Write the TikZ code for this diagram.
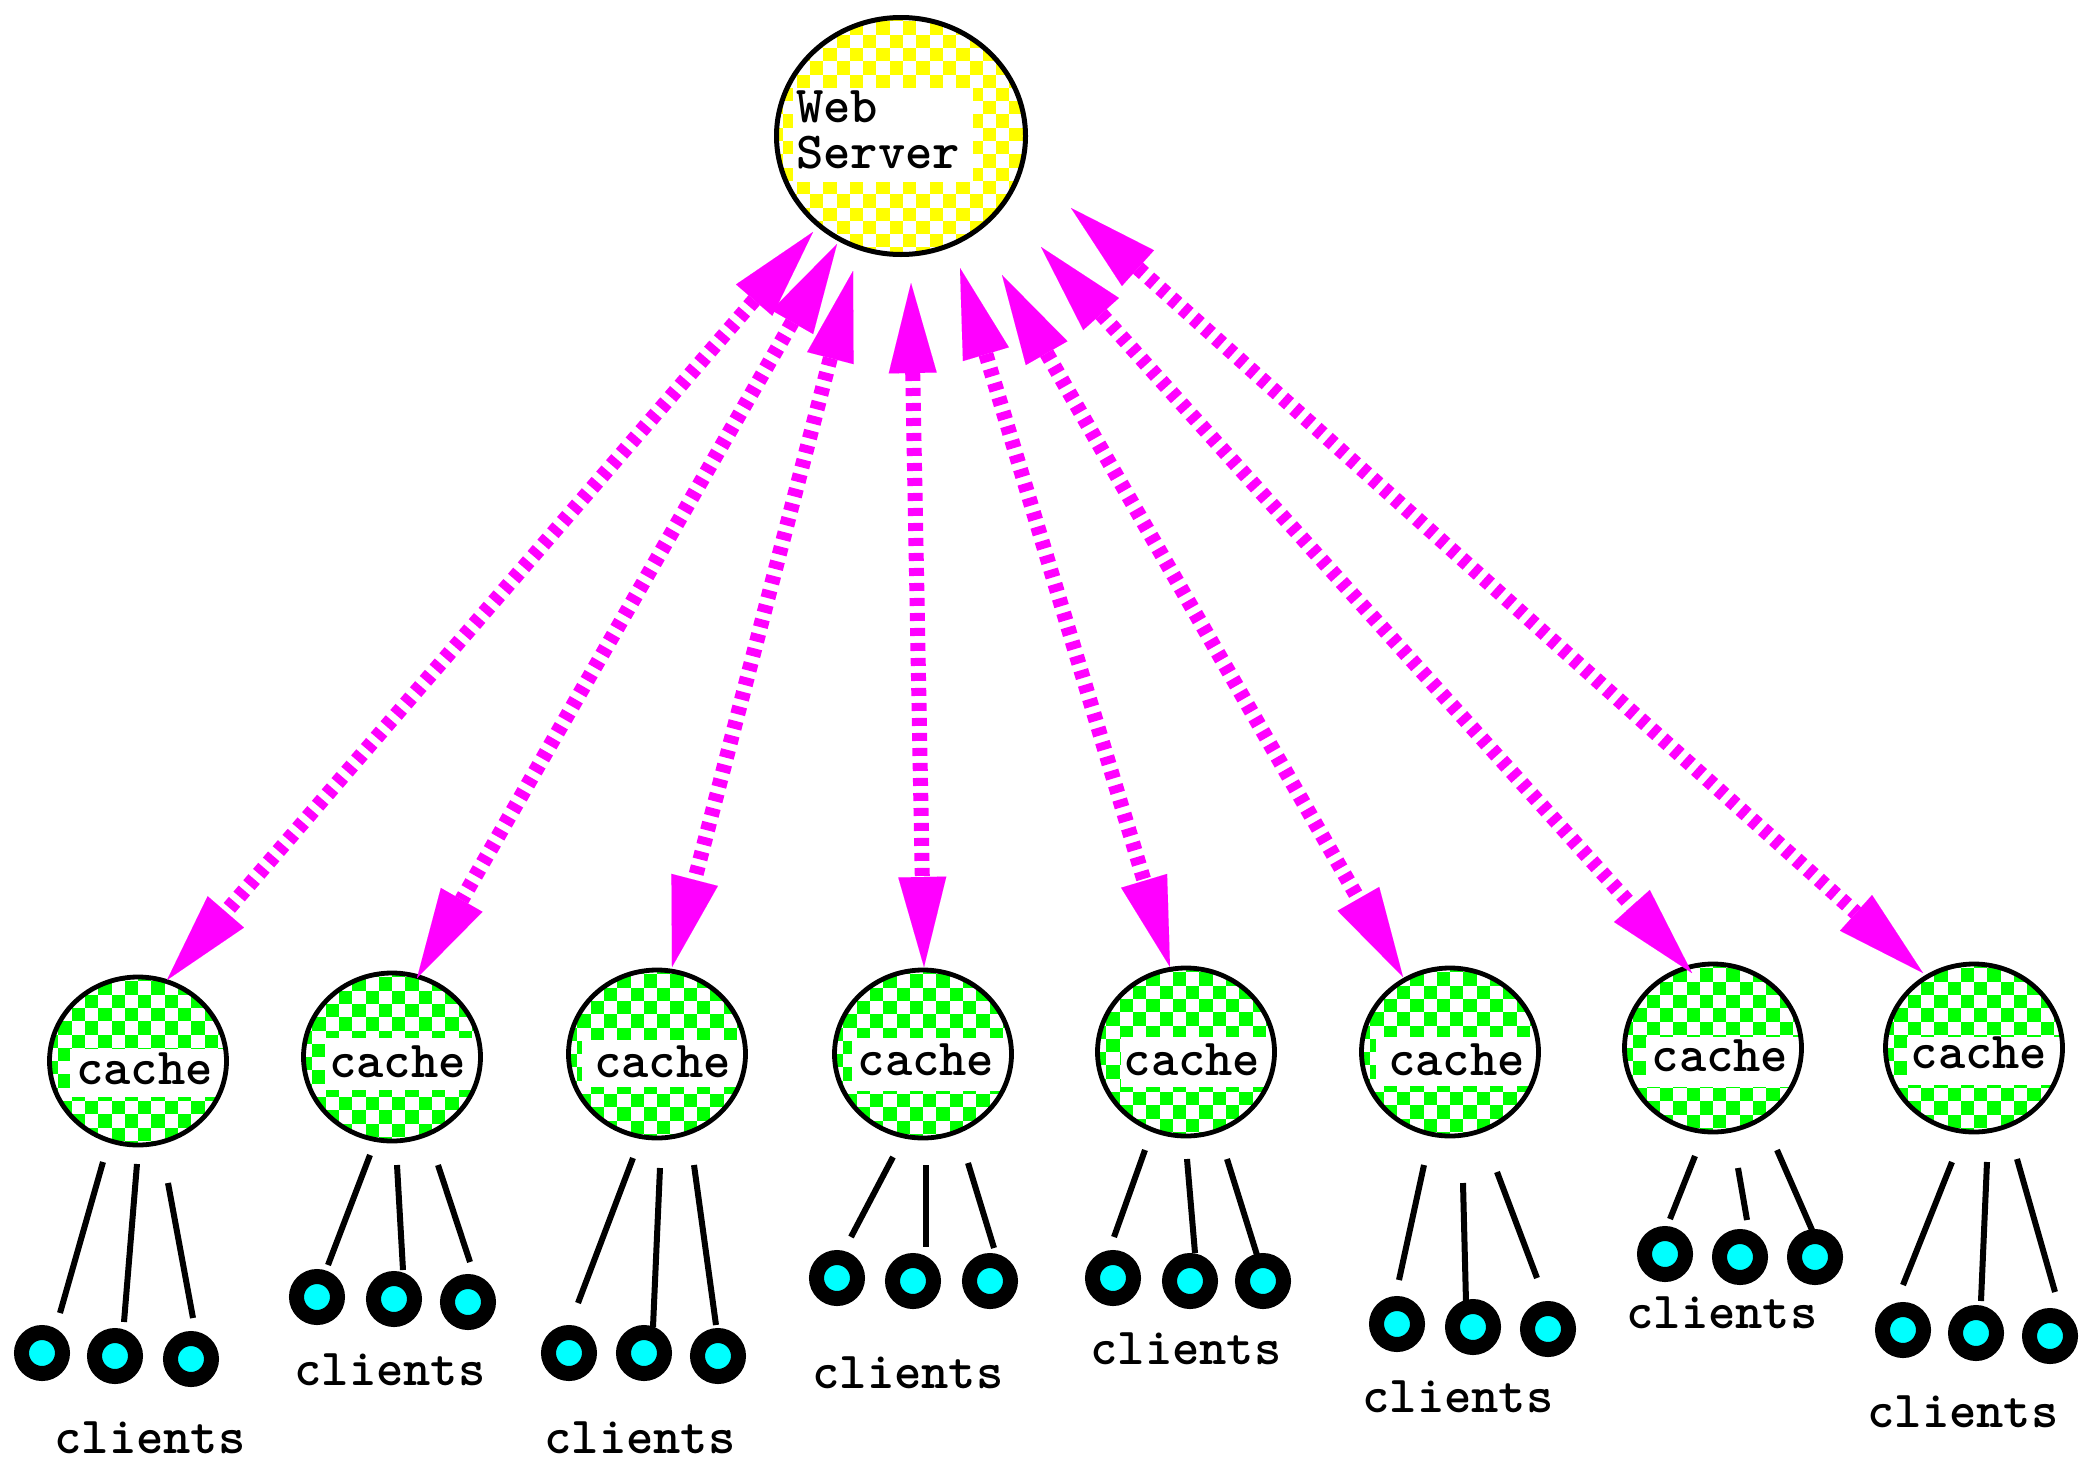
\documentclass[tikz,border=0pt]{standalone}
\usepackage{fontspec}
\newfontfamily\courf{lmmonolt10-bold.otf}
\usetikzlibrary{arrows.meta}
\definecolor{chkyellow}{RGB}{255,255,0}
\definecolor{chkgreen}{RGB}{0,255,0}
\definecolor{arrmag}{RGB}{255,0,255}
\definecolor{dotcyan}{RGB}{0,255,255}
\tikzset{
  ring/.style={draw=black, line width=4.8pt},
  lbltext/.style={font=\courf\fontsize{52}{52}\selectfont, inner sep=0pt, anchor=base, text height=30pt, text depth=0pt},
  link/.style={arrmag, line width=15pt, dash pattern=on 8pt off 7pt,
    {Triangle[length=90pt,width=48pt,line width=0.01pt]}-{Triangle[length=90pt,width=48pt,line width=0.01pt]}},
  wire/.style={line width=6pt, black, line cap=butt},
  client/.style={circle, draw=black, line width=15pt, fill=dotcyan, minimum size=41pt, inner sep=0pt},
}
% #1 name, #2 cx, #3 cy, #4 band left, #5 band top, #6 band bottom, #7 text x, #8 text baseline
\newcommand\drawcache[8]{%
  \begin{scope}
    \clip (#2,#3) ellipse [x radius=88.5pt, y radius=84pt];
    \fill[chkgreen] (#2-95,#3-95) rectangle (#2+95,#3+95);
    \foreach \i in {0,2,...,14}{\foreach \j in {0,2,...,14}{
      \fill[white] ({#2-93+\i*13.3},{#3-93+\j*13.3}) rectangle +(13.3,13.3);
      \fill[white] ({#2-93+(\i+1)*13.3},{#3-93+(\j+1)*13.3}) rectangle +(13.3,13.3);
    }}
    \fill[white] (#4,#5) rectangle (#2+100,#6);
  \end{scope}
  \draw[ring] (#2,#3) ellipse [x radius=88.5pt, y radius=84pt];
  \coordinate (#1) at (#2,#3);
  \node[lbltext] (#1txt) at (#7,#8) {cache};
}
\begin{document}
\begin{tikzpicture}[x=1pt,y=-1pt]
\useasboundingbox (0,0) rectangle (2089,1462);
\fill[white] (0,0) rectangle (2089,1462);

% Web server
\begin{scope}
  \clip (901,136) ellipse [x radius=124.5pt, y radius=118.5pt];
  \fill[chkyellow] (770,10) rectangle (1035,265);
  \foreach \i in {0,2,...,20}{\foreach \j in {0,2,...,20}{
    \fill[white] ({770+\i*13.3},{8+\j*13.3}) rectangle +(13.3,13.3);
    \fill[white] ({770+(\i+1)*13.3},{8+(\j+1)*13.3}) rectangle +(13.3,13.3);
  }}
  \fill[white] (793,88) rectangle (973,182);
\end{scope}
\draw[ring, line width=5pt] (901,136) ellipse [x radius=124.5pt, y radius=118.5pt];
\coordinate (server) at (901,136);
\node[inner sep=0pt, anchor=base west] (ws) at (796,122)
  {\courf\fontsize{52}{46}\selectfont\begin{tabular}[t]{@{}l@{}}Web\\Server\end{tabular}};

% Caches
\drawcache{ca1}{138}{1061}{70}{1049}{1097}{144.5}{1084}
\drawcache{ca2}{392}{1057}{325}{1038}{1090}{397.5}{1077}
\drawcache{ca3}{657}{1054}{582}{1040}{1087}{662.5}{1077}
\drawcache{ca4}{923}{1054}{852}{1038}{1091}{926}{1075}
\drawcache{ca5}{1186}{1052}{1121}{1037}{1087}{1192}{1075}
\drawcache{ca6}{1450}{1052}{1376}{1037}{1086}{1456.5}{1075}
\drawcache{ca7}{1713}{1048}{1646}{1037}{1087}{1720}{1071}
\drawcache{ca8}{1974}{1048}{1907}{1037}{1085}{1979}{1068}

% Arrow ends
\foreach \n/\sx/\sy/\cx/\cy in {
  1/813/232/167/980, 2/837/244/417/978, 3/853/271/672/967, 4/911/283/924/967,
  5/960/268/1170/967, 6/1002/275/1403/977, 7/1041/247/1692/973, 8/1071/208/1923/973}{
  \coordinate (s\n) at (\sx,\sy);
  \coordinate (c\n) at (\cx,\cy);
  \draw[link] (s\n) -- (c\n);
}

% Client wires
\foreach \n/\ax/\ay/\bx/\by in {
  1a/103/1162/60/1313, 1b/137/1164/124/1322, 1c/168/1183/193/1318,
  2a/370/1155/328/1265, 2b/397/1165/403/1270, 2c/438/1165/470/1262,
  3a/633/1158/578/1303, 3b/660/1168/653/1327, 3c/694/1165/716/1325,
  4a/893/1157/851/1237, 4b/926/1165/926/1247, 4c/968/1163/994/1248,
  5a/1145/1150/1114/1237, 5b/1187/1159/1195/1253, 5c/1227/1159/1257/1255,
  6a/1424/1165/1399/1280, 6b/1463/1183/1466/1302, 6c/1497/1172/1537/1278,
  7a/1695/1156/1670/1219, 7b/1738/1168/1747/1220, 7c/1777/1150/1812/1230,
  8a/1952/1162/1903/1285, 8b/1987/1162/1981/1301, 8c/2017/1159/2055/1292}{
  \coordinate (wt\n) at (\ax,\ay);
  \coordinate (wb\n) at (\bx,\by);
  \draw[wire] (wt\n) -- (wb\n);
}

% Client dots
\foreach \n/\x/\y in {
  1a/42/1353, 1b/115/1356, 1c/191/1359,
  2a/317/1297, 2b/394/1299, 2c/468/1302,
  3a/569/1353, 3b/644/1353, 3c/718/1356,
  4a/837/1278, 4b/913/1281, 4c/990/1281,
  5a/1113/1278, 5b/1190/1281, 5c/1263/1281,
  6a/1397/1324, 6b/1473/1327, 6c/1548/1329,
  7a/1665/1254, 7b/1740/1257, 7c/1815/1257,
  8a/1903/1330, 8b/1976/1333, 8c/2050/1336}{
  \node[client] (cl\n) at (\x,\y) {};
}

% Labels
\foreach \n/\x/\y in {1/150/1453, 2/390/1385, 3/640/1453, 4/908/1388,
  5/1186/1364, 6/1458/1412, 7/1722/1328, 8/1963/1427}{
  \node[lbltext] (lab\n) at (\x,\y) {clients};
}
\end{tikzpicture}
\end{document}
